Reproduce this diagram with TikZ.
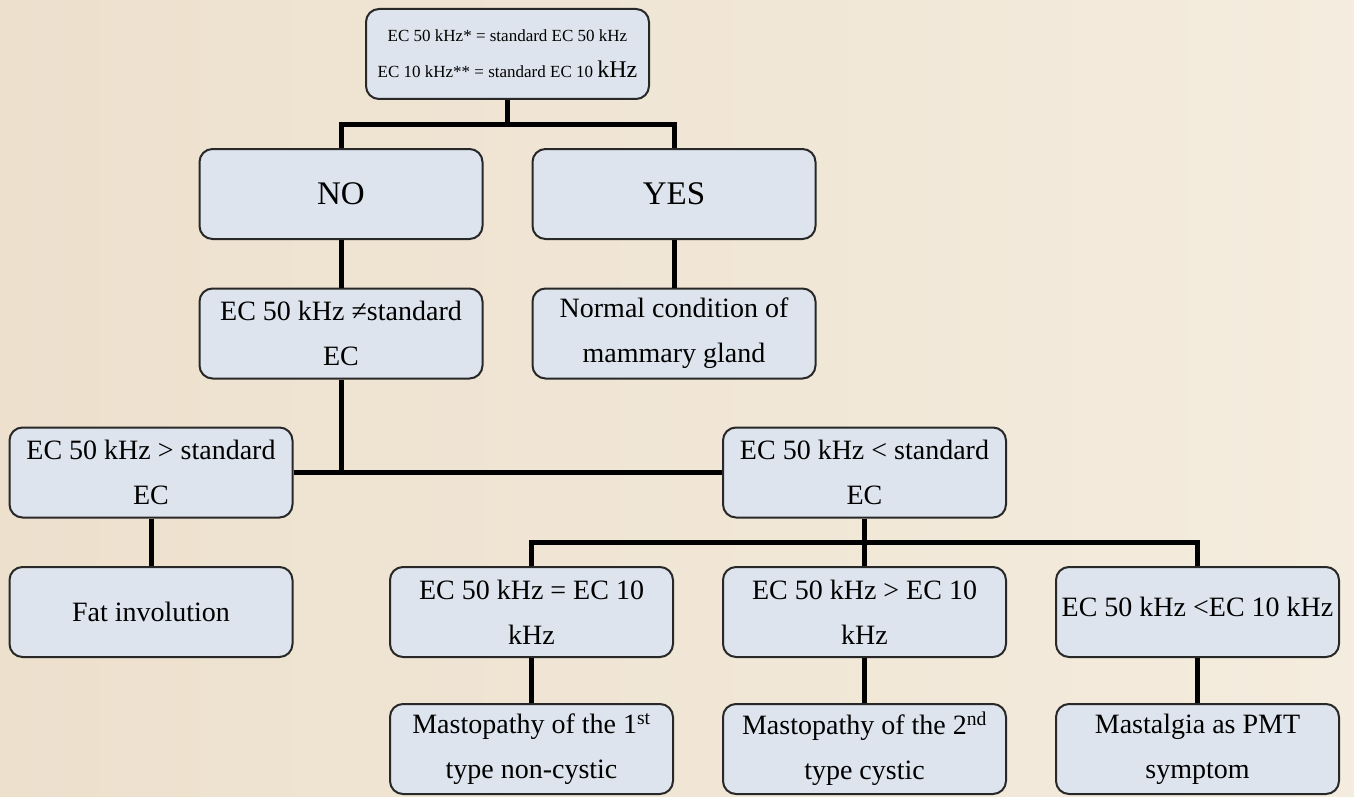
\documentclass[tikz,border=0pt]{standalone}
\usepackage{fontspec}
\setmainfont{Liberation Serif}

\definecolor{paper}{RGB}{244,236,222}
\definecolor{paperdark}{RGB}{237,224,205}
\definecolor{cellfill}{RGB}{221,228,237}
\definecolor{celledge}{RGB}{40,40,40}

\tikzset{
  cell/.style={draw=celledge, fill=cellfill, line width=2pt, rounded corners=13pt,
    minimum width=283pt, minimum height=90pt, inner sep=0pt, align=center,
    font=\fontsize{28}{45}\selectfont},
  bigcell/.style={cell, font=\fontsize{33}{40}\selectfont},
  headcell/.style={cell, font=\fontsize{17}{36}\selectfont},
  link/.style={line width=5pt, black},
}

\begin{document}
\begin{tikzpicture}[x=1pt,y=-1pt]
\useasboundingbox (0,0) rectangle (1354,797);
\fill[left color=paperdark, right color=paper] (0,0) rectangle (1354,797);

% boxes
\node[headcell] (rule) at (507.5,54) {EC 50 kHz* = standard EC 50 kHz\\EC 10 kHz** = standard EC 10 {\fontsize{24}{36}\selectfont kHz}};

\node[bigcell] (no)  at (341,194) {NO};
\node[bigcell] (yes) at (674,194) {YES};

\node[cell] (ne)     at (341,333.5) {EC 50 kHz ≠standard\\EC};
\node[cell] (normal) at (674,333.5) {Normal condition of\\mammary gland};

\node[cell] (gt) at (151,472.5)   {EC 50 kHz > standard\\EC};
\node[cell] (lt) at (864.5,472.5) {EC 50 kHz < standard\\EC};

\node[cell] (fat)   at (151,612)    {Fat involution};
\node[cell] (eq)    at (531.5,612)  {EC 50 kHz = EC 10\\kHz};
\node[cell] (gtten) at (864.5,612)  {EC 50 kHz > EC 10\\kHz};
\node[cell] (ltten) at (1197.5,612) {\raisebox{10pt}{EC 50 kHz <EC 10 kHz}};

\node[cell] (mastone)   at (531.5,749)  {Mastopathy of the 1\textsuperscript{st}\\type non-cystic};
\node[cell] (masttwo)   at (864.5,749)  {Mastopathy of the 2\textsuperscript{nd}\\type cystic};
\node[cell] (mastalgia) at (1197.5,749) {Mastalgia as PMT\\symptom};

% connectors
\draw[link] (rule.south) -- ++(0,25) coordinate (j1);
\draw[link] (no.north) |- (j1) -| (yes.north);
\draw[link] (no) -- (ne);
\draw[link] (yes) -- (normal);

\draw[link] (ne.south) -- (ne.south |- gt.east);
\draw[link] (gt.east) -- (lt.west);
\draw[link] (gt) -- (fat);

\draw[link] (lt.south) -- ++(0,24) coordinate (j2);
\draw[link] (eq.north) |- (j2) -| (ltten.north);
\draw[link] (j2) -- (gtten.north);

\draw[link] (eq) -- (mastone);
\draw[link] (gtten) -- (masttwo);
\draw[link] (ltten) -- (mastalgia);

\end{tikzpicture}
\end{document}
